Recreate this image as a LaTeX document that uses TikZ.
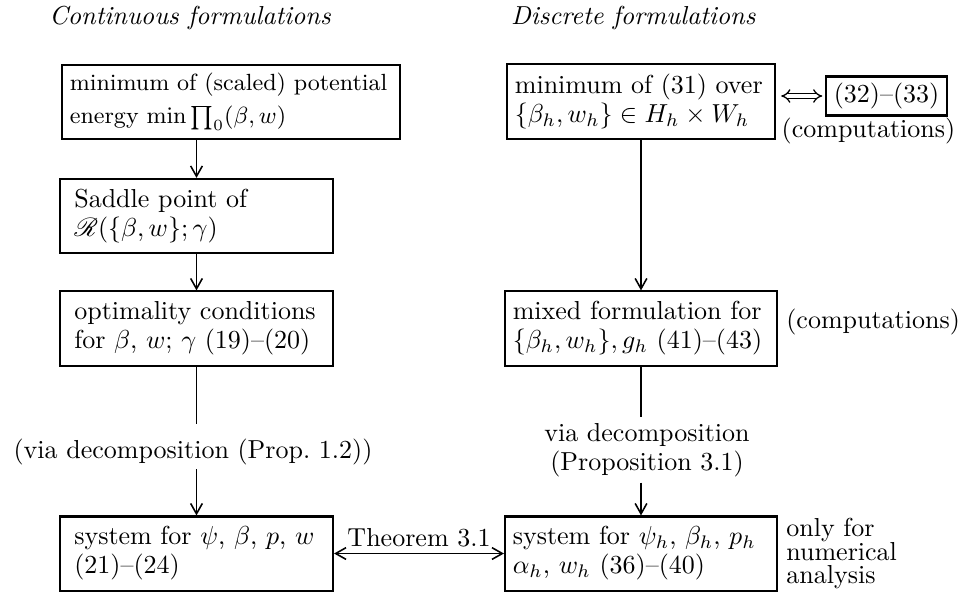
\documentclass[tikz,border=0pt]{standalone}
\usepackage{amsmath}
\usepackage{mathrsfs}
\usepackage{tikz}
\usetikzlibrary{arrows.meta,positioning}

\begin{document}
\begin{tikzpicture}[
		x = 0.3846pt, y = -0.3846pt,
		>= {Straight Barb[length=4pt,width=4.5pt]},
		formbox/.style = {draw, line width=0.8pt, align=left, inner xsep=#1, inner ysep=0pt,
			minimum height=28.5pt, font=\fontsize{10}{11.2}\selectfont},
		flow/.style = {->, line width=0.6pt},
		note/.style = {inner sep=2pt},
		title/.style = {font=\itshape}
	]

	\useasboundingbox (0,0) rectangle (969,591);

	\node[title] (ctitle) at (190,18) {Continuous formulations};
	\node[title,anchor=west] (dtitle) at (502,18) {Discrete formulations};

	% continuous column
	\node[formbox=3pt,text width=124pt,anchor=west,font=\fontsize{9}{12.6}\selectfont] (energy) at (61,102) {minimum of (scaled) potential\\ energy $\min\prod_0(\beta,w)$};
	\node[formbox=5.5pt,text width=94pt] (saddle) at (196.5,216) {Saddle point of\\ $\mathscr{R}(\{\beta,w\};\gamma)$};
	\node[formbox=5.5pt,text width=94pt] (optim) at (196.5,328.5) {optimality conditions\\ for $\beta$, $w$; $\gamma$ (19)--(20)};
	\node[note,inner ysep=1.5pt] (viaprop) at (193,452) {(via decomposition (Prop.\ 1.2))};
	\node[formbox=5.5pt,text width=94pt] (syscont) at (196.5,553.5) {system for $\psi$, $\beta$, $p$, $w$\\ (21)--(24)};

	% discrete column
	\node[formbox=3pt,text width=97pt] (mindisc) at (641,101.5) {minimum of (31) over\\ $\{\beta_h,w_h\}\in H_h\times W_h$};
	\node[draw,line width=0.8pt,inner xsep=3pt,inner ysep=2.5pt] (eqs) at (886.5,96) {(32)--(33)};
	\node[note,inner ysep=0.5pt,anchor=north west] (comp1) at (mindisc.east |- eqs.south) {(computations)};
	\node[formbox=3pt,text width=98.6pt] (mixed) at (641,328.5) {mixed formulation for\\ $\{\beta_h,w_h\}, g_h$ (41)--(43)};
	\node[note,right=1pt of mixed,yshift=2.5pt] (comp2) {(computations)};
	\node[note,align=center,font=\fontsize{10}{11.2}\selectfont] (viathm) at (647,450) {via decomposition\\ (Proposition 3.1)};
	\node[formbox=3pt,text width=98.6pt] (sysdisc) at (641,553.5) {system for $\psi_h$, $\beta_h$, $p_h$\\ $\alpha_h$, $w_h$ (36)--(40)};
	\node[note,right=1pt of sysdisc,align=left,font=\fontsize{10}{9.2}\selectfont] (numer) {only for\\ numerical\\ analysis};

	\draw[flow] (energy.south -| saddle.north) -- (saddle.north);
	\draw[flow] (saddle) -- (optim);
	\draw[line width=0.6pt,shorten >=4pt] (optim.south) -- (optim.south |- viaprop.north);
	\draw[flow] (viaprop.south -| syscont.north) -- (syscont.north);

	\draw[flow] (mindisc) -- (mixed);
	\draw[line width=0.6pt] (mixed) -- (viathm.north -| mixed.south);
	\draw[flow] (viathm.south -| sysdisc.north) -- (sysdisc);

	\draw[line width=0.5pt,double,double distance=1.3pt,{Implies}-{Implies},shorten <=2pt,shorten >=1pt]
		(mindisc.east |- eqs.west) -- (eqs.west);
	\draw[<->,line width=0.6pt] (syscont) -- node[above,inner sep=2pt] (thm) {Theorem 3.1} (sysdisc);

\end{tikzpicture}
\end{document}
